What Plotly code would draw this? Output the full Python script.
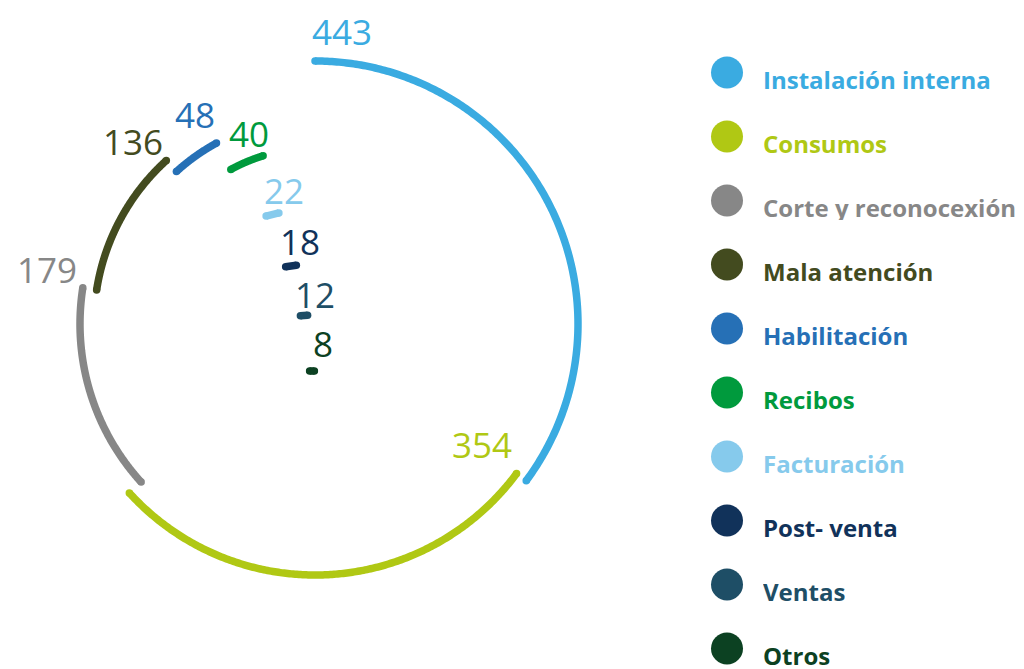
import numpy as np
import plotly.graph_objects as go

# ---------------- data ----------------
categories = ["Instalación interna", "Consumos", "Corte y reconocexión", "Mala atención",
              "Habilitación", "Recibos", "Facturación", "Post- venta", "Ventas", "Otros"]
values = [443, 354, 179, 136, 48, 40, 22, 18, 12, 8]
colors = ["#3AABE1", "#B0C814", "#878787", "#434B1F", "#2670B6",
          "#009A3D", "#86CAEC", "#11325A", "#1E4E66", "#0C4122"]

# ---------------- layout / style ----------------
W, H = 1024, 669
CX, CY = 315, 324                     # spiral centre (px)
ARC_RADII = [263, 251, 235, 221, 206, 176]   # radii of the arc segments
DASH_ANCHORS = [(272.5, 214.5), (291, 266), (304, 315.5), (312, 371)]  # small dashes
DASH_SCALE = 0.6                       # px per unit for small dashes
LINE_W = 7.5
LABEL_POS = [(342, 31), (482, 444), (47, 269), (133, 141), (195, 114),
             (249, 133), (283.5, 190), (300, 241), (314.5, 294), (323, 343)]
LABEL_SIZE = 35
NUM_FONT = "Open Sans"
LEG_FONT = "Open Sans"
LEG_X_MARK, LEG_X_TEXT, LEG_Y0, LEG_DY = 727, 762, 72.5, 64

total = sum(values)
cum = np.cumsum(values)
starts = (cum - np.array(values)) / total * 360.0
ends = cum / total * 360.0

fig = go.Figure()

n_arcs = len(ARC_RADII)
for i, (v, c) in enumerate(zip(values, colors)):
    if i < n_arcs:
        th = np.radians(np.linspace(starts[i], ends[i], 240))
        r = ARC_RADII[i]
        x = CX + r * np.sin(th)
        y = CY - r * np.cos(th)
    else:
        ax, ay = DASH_ANCHORS[i - n_arcs]
        mid = np.radians((starts[i] + ends[i]) / 2)
        half = v * DASH_SCALE / 2
        dx, dy = np.cos(mid), np.sin(mid)
        x = np.array([ax - half * dx, ax + half * dx])
        y = np.array([ay - half * dy, ay + half * dy])
    fig.add_trace(go.Scatter(x=x, y=y, mode="lines",
                             line=dict(color=c, width=LINE_W, simplify=False),
                             hoverinfo="skip", showlegend=False))
    # round caps
    fig.add_trace(go.Scatter(x=[x[0], x[-1]], y=[y[0], y[-1]], mode="markers",
                             marker=dict(color=c, size=LINE_W, line=dict(width=0)),
                             hoverinfo="skip", showlegend=False))

# value labels
for i, (v, c) in enumerate(zip(values, colors)):
    lx, ly = LABEL_POS[i]
    fig.add_annotation(x=lx, y=ly, text=str(v), showarrow=False,
                       font=dict(family=NUM_FONT, size=LABEL_SIZE, color=c),
                       xanchor="center", yanchor="middle")

# legend (manual)
leg_y = [LEG_Y0 + LEG_DY * i for i in range(len(categories))]
fig.add_trace(go.Scatter(x=[LEG_X_MARK] * len(categories), y=leg_y, mode="markers",
                         marker=dict(color=colors, size=32, line=dict(width=0)),
                         hoverinfo="skip", showlegend=False))
for i, (cat, c) in enumerate(zip(categories, colors)):
    fig.add_annotation(x=LEG_X_TEXT, y=leg_y[i] + 6, text=cat, showarrow=False,
                       font=dict(family=LEG_FONT, size=24, color=c, weight="bold"),
                       xanchor="left", yanchor="middle", borderpad=0,
                       height=26, valign="middle")

fig.update_layout(
    width=W, height=H, margin=dict(l=0, r=0, t=0, b=0),
    paper_bgcolor="white", plot_bgcolor="white",
    xaxis=dict(range=[0, W], visible=False, fixedrange=True),
    yaxis=dict(range=[H, 0], visible=False, fixedrange=True),
    showlegend=False,
)

fig.write_html("out.html", config={"displayModeBar": False},
               post_script="document.body.style.margin='0';document.body.style.overflow='hidden';")
